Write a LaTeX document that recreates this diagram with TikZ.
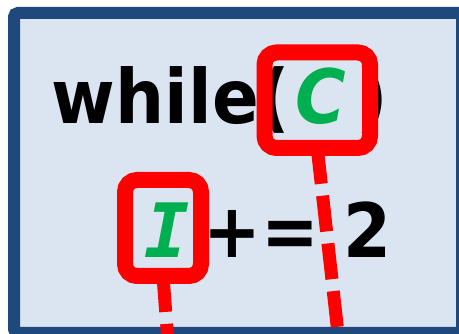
\documentclass[tikz,border=0pt]{standalone}
\usepackage{fontspec}
\newfontfamily\dvs{DejaVu Sans}[FakeStretch=0.92]
\newfontfamily\dvm{DejaVu Sans Mono}
\definecolor{framecol}{HTML}{1F497D}
\definecolor{fillcol}{HTML}{DBE4F1}
\definecolor{gcol}{HTML}{00B050}
\definecolor{rcol}{HTML}{FF0000}
\pgfdeclarelayer{back}
\pgfdeclarelayer{lines}
\pgfsetlayers{back,lines,main}
\tikzset{
  txt/.style={inner sep=0pt, outer sep=0pt, font=\dvs\bfseries\fontsize{75}{80}\selectfont, text=black},
  gtxt/.style={txt, text=gcol},
  redbox/.style={draw=rcol, line width=16pt, rounded corners=12pt, inner sep=0pt, outer sep=0pt},
  dashline/.style={draw=rcol, line width=13pt, dash pattern=on 36pt off 12pt},
  framebox/.style={draw=framecol, fill=fillcol, line width=12pt, rounded corners=4pt}
}
\begin{document}
\begin{tikzpicture}[x=1pt,y=-1pt]
\useasboundingbox (0,0) rectangle (459,334);
\begin{pgfonlayer}{back}
\draw[framebox] (14,13) rectangle (462,333);
\end{pgfonlayer}
% texts
\node[txt, anchor=base west] (wh) at (52,124) {while(};
\node[txt, anchor=base west] (rp) at (356,124) {)};
\node[gtxt] (c) at (320.5,96.5) {\itshape C};
\node[gtxt, font=\dvm\bfseries\itshape\fontsize{75}{80}\selectfont] (i) at (167.5,230) {I};
\node[txt, anchor=base west] (pe) at (204,258) {+= 2};
% boxes
\node[redbox, minimum width=105.5pt, minimum height=95.5pt] (cbox) at (317.25,100.25) {};
\node[redbox, minimum width=76pt, minimum height=96pt] (ibox) at (163,228) {};
% connectors
\coordinate (cend) at (339.3,345);
\coordinate (iend) at (168.2,345);
\begin{pgfonlayer}{lines}
\draw[dashline] (cbox.south) -- (cend);
\draw[dashline] (ibox.south) -- (iend);
\end{pgfonlayer}
\end{tikzpicture}
\end{document}
